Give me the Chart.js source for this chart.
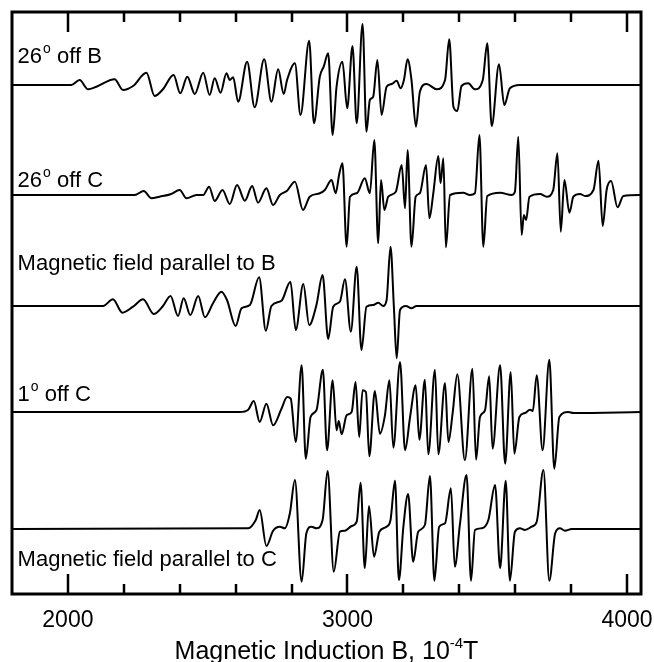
<!DOCTYPE html>
<html><head><meta charset="utf-8">
<script src="https://cdn.jsdelivr.net/npm/chart.js@4.4.0/dist/chart.umd.min.js"></script>
<style>html,body{margin:0;padding:0;background:#fff;}</style>
</head><body>
<canvas id="c" width="654" height="662"></canvas>
<script>
// ---- data (field in 10^-4 T, signal in arbitrary units) ----
const MAJOR_TICKS = [2000, 3000, 4000];
const MINOR_TICKS = [2200, 2400, 2600, 2800, 3200, 3400, 3600, 3800];
const TRACE_NAMES = ["26° off B", "26° off C", "Magnetic field parallel to B", "1° off C", "Magnetic field parallel to C"];
const OFFSETS = [50.9, 39.9, 28.8, 18.2, 6.5];
const LABEL_Y = [53.7, 41.3, 33.0, 19.9, 3.4];

const trace26offB = [[1800,0],[2012,0],[2042,0.5],[2072,-0.43],[2102,-0.17],[2167,0.57],[2197,-0.5],[2233,-0.1],[2281,1.23],[2310,-1.1],[2340,-0.43],[2378,1.0],[2402,-0.83],[2427,0.83],[2454,-0.9],[2484,1.23],[2507,-1.0],[2525,0.67],[2546,-0.77],[2567,1.17],[2579,0.5],[2591,0.77],[2609,-1.67],[2641,2.33],[2668,-2.23],[2702,2.57],[2728,-1.67],[2752,1.57],[2772,-0.9],[2784,0.5],[2812,2.17],[2832,-3.0],[2863,4.43],[2880,-3.83],[2901,0.83],[2915,1.83],[2931,3.17],[2947,-5.0],[2961,-0.17],[2982,2.33],[2999,-2.33],[3018,3.9],[3033,-3.83],[3054,6.1],[3068,-4.67],[3080,-1.5],[3092,-1.17],[3107,2.5],[3122,-3.0],[3140,-0.17],[3158,0.1],[3176,0.43],[3190,-0.33],[3202,0.5],[3215,2.57],[3229,0.5],[3245,-4.17],[3259,-0.67],[3283,0.1],[3319,-0.43],[3349,0.5],[3364,4.57],[3379,-2.17],[3393,-2.6],[3408,-0.1],[3432,0.17],[3456,-0.43],[3484,0.5],[3500,4.17],[3516,-4.1],[3542,2.07],[3561,-2.0],[3581,-0.33],[3617,0],[4050,0]];

const trace26offC = [[1800,0],[2239,0],[2271,0.4],[2299,-0.33],[2328,-0.17],[2367,0.07],[2400,0.5],[2424,-0.33],[2460,0],[2484,0],[2505,0.83],[2525,-0.6],[2553,0.5],[2579,-0.9],[2605,1.0],[2633,-0.57],[2659,0.9],[2680,-0.77],[2710,0.67],[2734,-1.0],[2758,0],[2784,0.43],[2812,1.33],[2841,-1.5],[2865,-0.17],[2901,0.17],[2919,0.5],[2943,1.5],[2958,0.17],[2970,2.0],[2982,3.17],[2997,-5.17],[3009,-0.17],[3033,0.17],[3062,1.67],[3080,0.17],[3096,5.5],[3110,-4.83],[3120,1.5],[3132,-1.5],[3146,-0.17],[3173,0.33],[3194,3.0],[3206,-1.33],[3215,4.5],[3229,-5.17],[3244,-0.17],[3259,0.17],[3281,3.0],[3293,-2.33],[3307,0.17],[3325,3.9],[3333,1.17],[3343,3.67],[3352,-5.23],[3367,0],[3414,0.23],[3438,0],[3456,0.17],[3472,6.0],[3486,-5.17],[3500,-0.1],[3546,0.23],[3587,0],[3599,0.33],[3611,5.83],[3623,-4.0],[3631,-2.0],[3639,-2.5],[3651,-0.17],[3689,0.1],[3713,-0.17],[3736,0.5],[3751,4.17],[3763,-3.67],[3776,1.5],[3794,-1.77],[3808,-0.17],[3832,0.1],[3850,-0.1],[3880,0.5],[3898,3.43],[3913,-3.1],[3927,0.5],[3943,1.4],[3966,-1.23],[3987,-0.1],[4050,0]];

const traceParallelB = [[1800,0],[2126,0],[2161,0.67],[2195,-0.67],[2233,-0.07],[2269,0.67],[2307,-0.8],[2340,0],[2367,1.0],[2394,-1.0],[2414,0.77],[2438,-0.9],[2466,1.0],[2490,-1.13],[2519,0.27],[2549,1.43],[2569,0.6],[2600,-2.0],[2621,-0.23],[2651,0.1],[2684,2.87],[2708,-2.47],[2728,0],[2764,0.53],[2796,2.43],[2815,-2.4],[2842,2.2],[2863,-1.9],[2889,0.1],[2911,3.1],[2931,-3.3],[2949,-0.07],[2973,0.43],[2991,2.67],[3012,-2.57],[3033,3.93],[3050,-4.4],[3068,-0.07],[3092,0.1],[3110,0.33],[3128,0],[3140,0.6],[3154,5.93],[3166,-0.07],[3176,-5.23],[3188,-0.4],[3209,0],[3229,-0.23],[3247,0],[4050,0]];

const trace1offC = [[1800,0],[2615,0],[2645,0.23],[2665,1.1],[2686,-1.0],[2710,0.83],[2734,-1.33],[2764,0.33],[2784,1.5],[2797,1.33],[2815,-3.0],[2836,4.67],[2851,-4.67],[2868,-0.5],[2889,0.17],[2912,4.23],[2927,-3.83],[2947,3.17],[2961,-1.83],[2969,-0.9],[2979,-2.23],[2997,-0.33],[3015,0],[3029,3.0],[3042,-2.5],[3054,2.17],[3066,2.0],[3078,-4.43],[3098,2.1],[3116,-2.17],[3134,-0.33],[3150,3.17],[3164,-3.57],[3188,5.0],[3206,-3.83],[3224,-0.5],[3244,2.67],[3257,-2.77],[3277,3.23],[3289,-4.23],[3313,4.23],[3325,-4.23],[3349,2.9],[3361,-3.0],[3376,-0.17],[3393,3.77],[3420,-4.83],[3447,4.33],[3460,-4.77],[3474,-0.5],[3492,0.17],[3507,3.57],[3519,-3.67],[3546,4.67],[3564,-5.17],[3584,4.0],[3597,-4.17],[3615,-0.5],[3635,-0.1],[3653,0.23],[3663,0.1],[3677,3.67],[3698,-3.83],[3722,5.23],[3740,-5.67],[3758,-0.5],[3790,0],[3808,-0.1],[4050,0]];

const traceParallelC = [[1800,0],[2645,0.07],[2672,0.9],[2686,1.9],[2710,-1.7],[2734,-0.17],[2758,0.23],[2776,0.07],[2794,1.57],[2812,4.9],[2836,-5.27],[2853,-0.43],[2871,0.23],[2889,0.07],[2911,0.9],[2929,5.8],[2951,-4.27],[2973,-0.27],[2991,-0.17],[3015,0.3],[3033,0.73],[3047,4.63],[3062,-3.93],[3077,2.3],[3095,-2.77],[3114,-0.27],[3140,0.23],[3154,0.9],[3170,4.83],[3184,-5.1],[3200,0.23],[3217,3.5],[3235,-3.27],[3253,-0.27],[3277,0.4],[3295,5.3],[3311,-5.17],[3328,0.23],[3349,0.57],[3370,4.07],[3384,-3.77],[3402,0.4],[3426,5.4],[3442,-5.17],[3456,-0.1],[3480,0.07],[3504,0.9],[3528,4.4],[3546,-3.93],[3566,4.83],[3581,-5.17],[3599,-0.27],[3617,0.07],[3635,-0.1],[3659,0.23],[3677,0.73],[3701,5.9],[3722,-5.17],[3743,-0.43],[3760,0.07],[3778,-0.17],[3802,0],[4050,0]];

const TRACES = [trace26offB, trace26offC, traceParallelB, trace1offC, traceParallelC];
const AXIS_TITLE = ["Magnetic Induction B, 10", "-4", "T"];

// ---- chart ----
const FONT = '"Liberation Sans", Arial, Helvetica, sans-serif';

const datasets = TRACES.map((tr, i) => ({
  label: TRACE_NAMES[i],
  data: tr.map(p => ({ x: p[0], y: OFFSETS[i] + p[1] })),
  borderColor: '#000',
  borderWidth: 2,
  pointRadius: 0,
  cubicInterpolationMode: 'monotone',
  fill: false
}));

const framePlugin = {
  id: 'frame',
  afterDraw(chart) {
    const { ctx, chartArea: a, scales } = chart;
    const xs = scales.x, ys = scales.y;
    ctx.save();
    ctx.strokeStyle = '#000';
    ctx.fillStyle = '#000';
    ctx.lineWidth = 2.5;
    const drawTick = (v, len) => {
      const px = Math.round(xs.getPixelForValue(v));
      ctx.beginPath();
      ctx.moveTo(px, a.top); ctx.lineTo(px, a.top + len);
      ctx.moveTo(px, a.bottom); ctx.lineTo(px, a.bottom - len);
      ctx.stroke();
    };
    MAJOR_TICKS.forEach(v => drawTick(v, 20));
    MINOR_TICKS.forEach(v => drawTick(v, 10));
    ctx.lineWidth = 3;
    ctx.strokeRect(a.left, a.top, a.right - a.left, a.bottom - a.top);

    ctx.font = '23px ' + FONT;
    ctx.textAlign = 'center';
    ctx.textBaseline = 'alphabetic';
    MAJOR_TICKS.forEach(v => ctx.fillText(String(v), xs.getPixelForValue(v), a.bottom + 33));

    ctx.textBaseline = 'middle';
    ctx.textAlign = 'left';
    const lx = xs.getPixelForValue(1820);
    TRACE_NAMES.forEach((name, i) => {
      const y = ys.getPixelForValue(LABEL_Y[i]);
      const parts = name.split('°');
      ctx.font = '22px ' + FONT;
      let x = lx;
      ctx.fillText(parts[0], x, y);
      x += ctx.measureText(parts[0]).width;
      if (parts.length > 1) {
        ctx.font = '14px ' + FONT;
        ctx.fillText('o', x + 1, y - 8);
        x += ctx.measureText('o').width + 1;
        ctx.font = '22px ' + FONT;
        ctx.fillText(parts[1], x, y);
      }
    });

    ctx.textBaseline = 'alphabetic';
    ctx.font = '25px ' + FONT;
    const w0 = ctx.measureText(AXIS_TITLE[0]).width;
    const w2 = ctx.measureText(AXIS_TITLE[2]).width;
    ctx.font = '15px ' + FONT;
    const w1 = ctx.measureText(AXIS_TITLE[1]).width;
    let tx = (a.left + a.right) / 2 - (w0 + w1 + w2) / 2;
    const ty = a.bottom + 65;
    ctx.font = '25px ' + FONT;
    ctx.fillText(AXIS_TITLE[0], tx, ty); tx += w0;
    ctx.font = '15px ' + FONT;
    ctx.fillText(AXIS_TITLE[1], tx, ty - 11); tx += w1;
    ctx.font = '25px ' + FONT;
    ctx.fillText(AXIS_TITLE[2], tx, ty);
    ctx.restore();
  }
};

new Chart(document.getElementById('c'), {
  type: 'line',
  data: { datasets },
  options: {
    responsive: false,
    animation: false,
    devicePixelRatio: 1,
    layout: { padding: { left: 12, right: 13, top: 12, bottom: 68 } },
    plugins: { legend: { display: false }, tooltip: { enabled: false } },
    scales: {
      x: { type: 'linear', min: 1800, max: 4050, display: false },
      y: { type: 'linear', min: 0, max: 58.2, display: false }
    }
  },
  plugins: [framePlugin]
});
</script>
</body></html>
